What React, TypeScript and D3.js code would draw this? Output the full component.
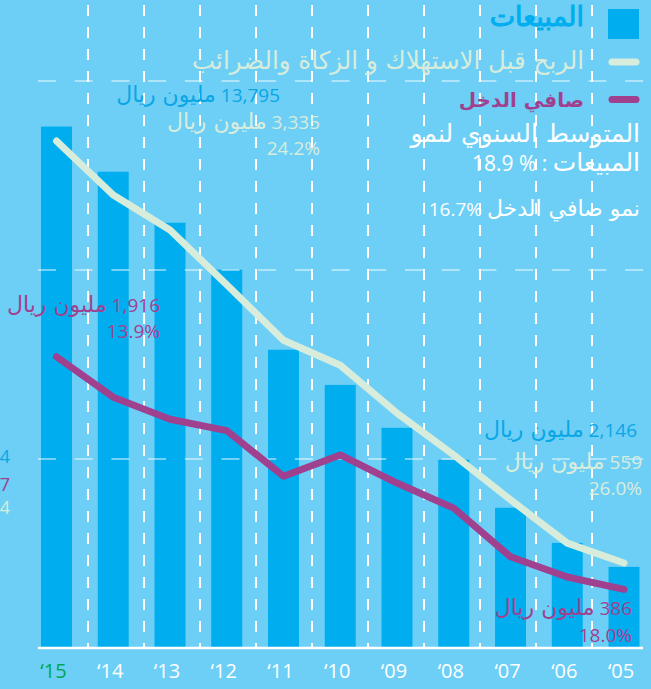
import React from "react";
import * as d3 from "d3";

const years = ["15", "14", "13", "12", "11", "10", "09", "08", "07", "06", "05"];
const sales = [13795, 12600, 11250, 10010, 7890, 6960, 5825, 4980, 3710, 2780, 2146];
const ebitda = [3335, 2980, 2750, 2390, 2025, 1860, 1545, 1270, 975, 690, 559];
const netIncome = [1916, 1650, 1505, 1430, 1130, 1270, 1085, 920, 600, 467, 386];
const salesGrid = [5000, 10000, 15000];

const legendLabels = ["المبيعات", "الربح قبل الاستهلاك و الزكاة والضرائب", "صافي  الدخل"];

const W = 651;
const H = 689;
const BG = "#6dcff6";
const BLUE = "#00aeef";
const BLUE_TXT = "#0aa6e6";
const LIGHT = "#d8ecdc";
const PURPLE = "#a0418f";
const LATIN = "'Open Sans', sans-serif";
const ARABIC = "'DejaVu Sans', sans-serif";
const LRM = "\u200E";

type Part = { t: string; ar?: boolean };

// parts are given in visual order, left to right; text is right-anchored at x
function RText(props: {
  x: number;
  y: number;
  parts: Part[];
  fill: string;
  arSize: number;
  latSize: number;
  weight?: number;
  bold?: number;
}) {
  const { x, y, parts, fill, arSize, latSize, weight = 400, bold = 0 } = props;
  return (
    <text
      x={x}
      y={y}
      textAnchor="end"
      fill={fill}
      fontWeight={weight}
      stroke={bold ? fill : "none"}
      strokeWidth={bold}
    >
      {parts.map((p, i) => (
        <tspan key={i} fontFamily={p.ar ? ARABIC : LATIN} fontSize={p.ar ? arSize : latSize}>
          {p.t}
        </tspan>
      ))}
    </text>
  );
}

export default function App() {
  const x = d3
    .scaleBand<string>()
    .domain(years)
    .range([28.1, 652.4])
    .paddingInner(0.454)
    .paddingOuter(0.227);
  const ySales = d3.scaleLinear().domain([0, 15000]).range([648, 81]);
  const yLine = d3.scaleLinear().domain([0, 3730]).range([648, 81]);
  const cx = (y: string) => (x(y) as number) + x.bandwidth() / 2;

  const lineGen = (vals: number[]) =>
    d3
      .line<number>()
      .x((_, i) => cx(years[i]))
      .y((v) => yLine(v))(vals) as string;

  const vGrid = d3.range(10).map((i) => 88 + 56 * i);
  const mr = "مليون ريال";
  const amount = (n: string): Part[] => [{ t: mr, ar: true }, { t: LRM + " " + n }];

  return (
    <svg width={W} height={H} style={{ position: "absolute", left: 0, top: 0 }}>
      <rect width={W} height={H} fill={BG} />
      {vGrid.map((gx) => (
        <line
          key={gx}
          x1={gx}
          x2={gx}
          y1={5}
          y2={648}
          stroke="#ffffff"
          strokeWidth={2}
          strokeDasharray="11 11"
        />
      ))}
      {sales.map((v, i) => (
        <rect
          key={years[i]}
          x={x(years[i])}
          y={ySales(v)}
          width={x.bandwidth()}
          height={648 - ySales(v)}
          fill={BLUE}
        />
      ))}
      {salesGrid.map((g) => (
        <line
          key={g}
          x1={38}
          x2={644}
          y1={ySales(g)}
          y2={ySales(g)}
          stroke="#ffffff"
          strokeOpacity={0.45}
          strokeWidth={2}
          strokeDasharray="18 18.7"
        />
      ))}
      <line x1={38} x2={643} y1={648} y2={648} stroke="#ffffff" strokeWidth={2.5} />
      <path d={lineGen(ebitda)} fill="none" stroke={LIGHT} strokeWidth={7} strokeLinecap="round" strokeLinejoin="round" />
      <path d={lineGen(netIncome)} fill="none" stroke={PURPLE} strokeWidth={7} strokeLinecap="round" strokeLinejoin="round" />

      {years.map((yr, i) => (
        <text
          key={yr}
          x={cx(yr) - 3}
          y={678}
          textAnchor="middle"
          fontFamily={LATIN}
          fontSize={20}
          fontWeight={500}
          fill={i === 0 ? "#00a651" : "#ffffff"}
        >
          {"\u2018" + yr}
        </text>
      ))}

      {/* legend */}
      <rect x={608} y={9} width={31} height={30} fill={BLUE} />
      <line x1={612} x2={636} y1={62} y2={62} stroke={LIGHT} strokeWidth={7} strokeLinecap="round" />
      <line x1={612} x2={636} y1={99.5} y2={99.5} stroke={PURPLE} strokeWidth={7} strokeLinecap="round" />
      <RText x={584} y={26} parts={[{ t: legendLabels[0], ar: true }]} fill={BLUE} arSize={27} latSize={20} bold={1} />
      <RText x={584} y={69} parts={[{ t: legendLabels[1], ar: true }]} fill={LIGHT} arSize={24.5} latSize={20} />
      <RText x={584} y={107} parts={[{ t: legendLabels[2], ar: true }]} fill={PURPLE} arSize={20} latSize={20} weight={700} />

      {/* notes */}
      <RText x={640} y={142} parts={[{ t: "المتوسط السنوي لنمو", ar: true }]} fill="#ffffff" arSize={25} latSize={21} />
      <RText x={640} y={171} parts={[{ t: "18.9 % : " }, { t: "المبيعات", ar: true }]} fill="#ffffff" arSize={25} latSize={21} />
      <RText x={640} y={216} parts={[{ t: "16.7% " }, { t: "نمو صافي الدخل", ar: true }]} fill="#ffffff" arSize={22} latSize={19} />

      {/* annotations */}
      <RText x={280} y={102} parts={amount("13,795")} fill={BLUE_TXT} arSize={22} latSize={19} />
      <RText x={320} y={129} parts={amount("3,335")} fill={LIGHT} arSize={22} latSize={19} />
      <RText x={320} y={155} parts={[{ t: "24.2%" }]} fill={LIGHT} arSize={22} latSize={19} />
      <RText x={160} y={312} parts={amount("1,916")} fill={PURPLE} arSize={22} latSize={19} />
      <RText x={160} y={338} parts={[{ t: "13.9%" }]} fill={PURPLE} arSize={22} latSize={19} />
      <RText x={637} y={437} parts={amount("2,146")} fill={BLUE_TXT} arSize={22} latSize={19} />
      <RText x={642} y={469} parts={amount("559")} fill={LIGHT} arSize={22} latSize={19} />
      <RText x={642} y={495} parts={[{ t: "26.0%" }]} fill={LIGHT} arSize={22} latSize={19} />
      <RText x={632} y={615} parts={amount("386")} fill={PURPLE} arSize={22} latSize={19} />
      <RText x={632} y={642} parts={[{ t: "18.0%" }]} fill={PURPLE} arSize={22} latSize={19} />

      {/* clipped labels at left edge */}
      <text x={10} y={463} textAnchor="end" fontFamily={LATIN} fontSize={18} fill={BLUE_TXT}>4</text>
      <text x={10} y={491} textAnchor="end" fontFamily={LATIN} fontSize={18} fill={PURPLE}>7</text>
      <text x={10} y={514} textAnchor="end" fontFamily={LATIN} fontSize={18} fill={LIGHT}>4</text>
    </svg>
  );
}
